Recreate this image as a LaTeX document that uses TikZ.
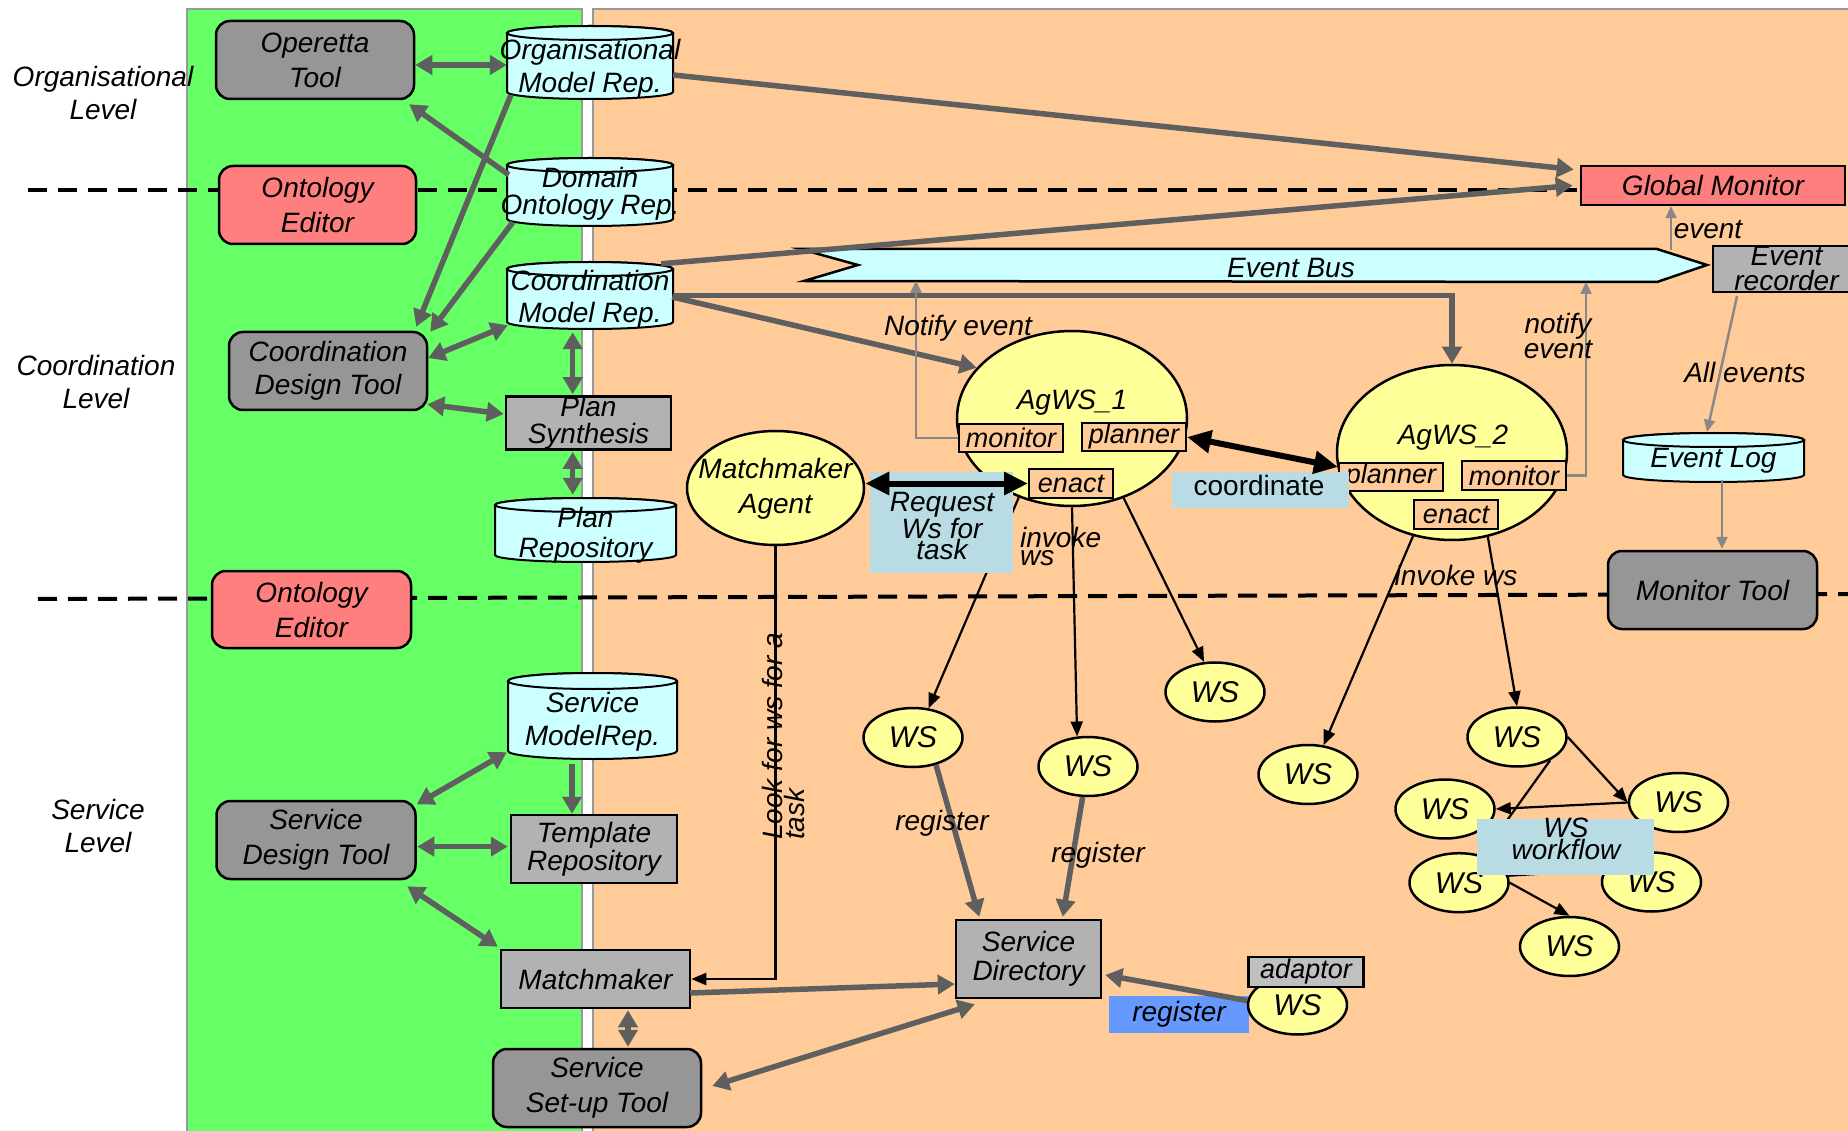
\documentclass[tikz,border=0pt]{standalone}
\usepackage{fontspec}
\setmainfont{Liberation Sans}
\usetikzlibrary{arrows.meta,shapes.geometric,calc}
\definecolor{grn}{HTML}{66FF66}
\definecolor{peach}{HTML}{FFCC99}
\definecolor{dgray}{HTML}{969696}
\definecolor{lgray}{HTML}{B2B2B2}
\definecolor{redb}{HTML}{FF7F7F}
\definecolor{cyanb}{HTML}{CCFFFF}
\definecolor{yel}{HTML}{FFFF99}
\definecolor{arrg}{HTML}{5F5F5F}
\definecolor{thing}{HTML}{888888}
\definecolor{lblue}{HTML}{B9DCE4}
\definecolor{regblue}{HTML}{6699FF}
\definecolor{adgray}{HTML}{C0C0C0}
\definecolor{pborder}{HTML}{999999}
\newcommand\fs[2]{\fontsize{#1}{#2}\selectfont}
\newcommand\drawcyl[5]{%
  \pgfmathsetmacro\cylcx{(#1+#3)/2}%
  \pgfmathsetmacro\cylrx{(#3-#1)/2}%
  \filldraw[cylsty] (#1,{#2+#5}) -- (#1,{#4-#5}) arc[start angle=180,end angle=0,x radius=\cylrx,y radius=#5] -- (#3,{#2+#5}) arc[start angle=0,end angle=-180,x radius=\cylrx,y radius=#5] -- cycle;
  \draw[cylsty] (\cylcx,{#2+#5}) ellipse[x radius=\cylrx,y radius=#5];
}
\begin{document}
\begin{tikzpicture}[x=1pt,y=-1pt,
  every node/.style={inner sep=0pt,align=center,font=\fs{28}{33}\itshape},
  cylsty/.style={draw=black,line width=2pt,fill=cyanb},
  cylnode/.style={rectangle},
  darkbox/.style={draw=black,line width=2.5pt,rounded corners=14pt,fill=dgray},
  redbox/.style={darkbox,fill=redb},
  greybox/.style={draw=black,line width=2.5pt,fill=lgray},
  sub/.style={draw=black,line width=2pt,fill=peach,minimum height=28pt,font=\fs{27}{27}\itshape},
  yell/.style={ellipse,draw=black,line width=2.5pt,fill=yel},
  wsn/.style={yell,minimum width=99pt,minimum height=59pt,font=\fs{30}{30}\itshape},
  tagbox/.style={fill=lblue},
  garr/.style={draw=arrg,line width=5.5pt,-{Triangle[length=17pt,width=19pt]}},
  gdbl/.style={draw=arrg,line width=5.5pt,{Triangle[length=17pt,width=19pt]}-{Triangle[length=17pt,width=19pt]}},
  tgarr/.style={draw=thing,line width=2.5pt,-{Triangle[length=12pt,width=11pt]}},
  barr/.style={draw=black,line width=2.2pt,-{Triangle[length=15pt,width=12pt]}},
  bline/.style={draw=black,line width=2.2pt},
  bdbl/.style={draw=black,line width=6pt,{Triangle[length=24pt,width=22pt]}-{Triangle[length=24pt,width=22pt]}},
  dashl/.style={draw=black,line width=4pt,dash pattern=on 19pt off 11pt}
]
\useasboundingbox (0,0) rectangle (1848,1131);
\clip (0,0) rectangle (1848,1131);
\fill[white] (0,0) rectangle (1848,1131);

% panels
\filldraw[draw=pborder,line width=2pt,fill=grn] (187,9) rectangle (582,1140);
\filldraw[draw=pborder,line width=2pt,fill=peach] (593,9) rectangle (1860,1140);

% level separators
\draw[dashl] (28,190.5) -- (1581,190.5);
\draw[dashl] (38,599) -- (1848,594);

% level labels
\node (lv1) at (103,93) {Organisational\\Level};
\node (lv2) at (96,382) {Coordination\\Level};
\node (lv3) at (98,826) {Service\\Level};

% event bus
\filldraw[fill=cyanb,draw=black,line width=2.5pt] (800,249) -- (1657,249) -- (1707,265) -- (1657,282) -- (804,281) -- (858,265) -- cycle;
\node (ebt) at (1291,268) {Event Bus};
\coordinate (ebL) at (916,281);
\coordinate (ebR) at (1586,282);
\coordinate (ebT) at (1671,250);

% cylinders (bodies)
\drawcyl{507}{26}{673}{99}{7}
\drawcyl{507}{158}{673}{226}{7}
\drawcyl{507}{262}{673}{329}{7}
\drawcyl{495}{498}{676}{562}{7}
\drawcyl{508}{673}{677}{759}{8}
\drawcyl{1623}{433}{1804}{482}{7}
\node[cylnode,minimum width=166pt,minimum height=73pt] (omr) at (590,62.5) {};
\node[cylnode,minimum width=166pt,minimum height=68pt] (dor) at (590,192) {};
\node[cylnode,minimum width=166pt,minimum height=67pt] (cmr) at (590,295.5) {};
\node[cylnode,minimum width=181pt,minimum height=64pt] (pr) at (585.5,530) {};
\node[cylnode,minimum width=169pt,minimum height=86pt] (smr) at (592.5,716) {};
\node[cylnode,minimum width=181pt,minimum height=49pt] (el) at (1713.5,457.5) {};
\node (omrt) at (590,68.5) {Organisational\\Model Rep.};
\node[font=\fs{28}{27}\itshape] (dort) at (590,194) {Domain\\Ontology Rep.};
\node[font=\fs{28}{32}\itshape] (cmrt) at (590,299) {Coordination\\Model Rep.};
\node[font=\fs{28}{30}\itshape] (prt) at (585.5,535) {Plan\\Repository};
\node (smrt) at (592.5,721.5) {Service\\ModelRep.};
\node (elt) at (1713.5,461) {Event Log};

% boxes green panel
\node[darkbox,minimum width=198pt,minimum height=78pt,font=\fs{28}{35}\itshape] (opt) at (315,60) {Operetta\\Tool};
\node[redbox,minimum width=197pt,minimum height=78pt,font=\fs{28}{35}\itshape] (oe1) at (317.5,205) {Ontology\\Editor};
\node[darkbox,minimum width=198pt,minimum height=78pt] (cdt) at (328,371) {Coordination\\Design Tool};
\node[greybox,minimum width=165pt,minimum height=52pt,font=\fs{28}{27}\itshape] (ps) at (588.5,423) {Plan\\Synthesis};
\node[redbox,minimum width=199pt,minimum height=77pt,font=\fs{28}{35}\itshape] (oe2) at (311.5,609.5) {Ontology\\Editor};
\node[darkbox,minimum width=199pt,minimum height=78pt,font=\fs{28}{35}\itshape] (sdt) at (316,840) {Service\\Design Tool};
\node[greybox,minimum width=166pt,minimum height=68pt,font=\fs{28}{28}\itshape] (tr) at (594,849) {Template\\Repository};
\node[greybox,minimum width=189pt,minimum height=58pt] (mm) at (595.5,979) {Matchmaker};
\node[darkbox,minimum width=208pt,minimum height=78pt,font=\fs{28}{35}\itshape] (sst) at (597,1088) {Service\\Set-up Tool};

% right side boxes
\node[greybox,fill=redb,minimum width=264pt,minimum height=39pt] (gm) at (1713,185.5) {Global Monitor};
\node[greybox,minimum width=147pt,minimum height=46pt,font=\fs{28}{25}\itshape] (er) at (1786.5,269) {Event\\recorder};
\node[darkbox,minimum width=209pt,minimum height=78pt] (mt) at (1712.5,590) {Monitor Tool};
\node[greybox,minimum width=145pt,minimum height=78pt,font=\fs{28}{29}\itshape] (sd) at (1028.5,959) {Service\\Directory};

% agents
\node[yell,minimum width=177pt,minimum height=114pt] (ma) at (775.5,488) {};
\node[font=\fs{28}{35}\itshape] (mat) at (775.5,489) {Matchmaker\\Agent};
\node[yell,minimum width=230pt,minimum height=175pt] (ag1) at (1072,418.5) {};
\node (ag1t) at (1072,403) {AgWS\_1};
\node[sub,minimum width=104pt] (mon1) at (1011,438) {monitor};
\node[sub,minimum width=104pt] (pl1) at (1134,437) {planner};
\node[sub,minimum width=84pt,minimum height=29pt] (en1) at (1071,483.5) {enact};
\node[yell,minimum width=230pt,minimum height=175pt] (ag2) at (1452,452.5) {};
\node (ag2t) at (1453,438) {AgWS\_2};
\node[sub,minimum width=104pt] (pl2) at (1391,477) {planner};
\node[sub,minimum width=104pt] (mon2) at (1514,475.5) {monitor};
\node[sub,minimum width=84pt,minimum height=29pt] (en2) at (1456,514.5) {enact};

% blue register tag
\node[fill=regblue,minimum width=140pt,minimum height=37pt] (regb) at (1179,1014.5) {register};

% web services
\node[wsn] (wsa) at (913,737.5) {WS};
\node[wsn] (wsb) at (1088,766.5) {WS};
\node[wsn] (wsc) at (1215,692) {WS};
\node[wsn] (wsd) at (1308,774.5) {WS};
\node[wsn] (wse) at (1517,737) {WS};
\node[wsn] (wsf) at (1445,809) {WS};
\node[wsn] (wsg) at (1678.5,802.5) {WS};
\node[wsn] (wsh) at (1459,882.7) {WS};
\node[wsn] (wsi) at (1651.5,882) {WS};
\node[wsn] (wsj) at (1569.5,946.5) {WS};
\node[wsn] (wsk) at (1297.5,1005) {WS};
\node[greybox,fill=adgray,minimum width=115pt,minimum height=30pt,font=\fs{27}{27}\itshape] (ad) at (1306,972) {adaptor};

% gray thick connectors, green panel
\draw[gdbl] ($(opt.east)+(0,5)$) -- ($(omr.west)+(0,2.5)$);
\draw[garr] ($(dor.north west)+(2,17)$) -- ($(opt.south east)+(-6,4)$);
\draw[garr] ($(omr.south west)+(4,-4)$) -- ($(cdt.north east)+(-12,-4)$);
\draw[garr] ($(dor.south west)+(6,-4)$) -- ($(cdt.north east)+(2,1)$);
\draw[gdbl] ($(cdt.east)+(0,-13)$) -- ($(cmr.south west)+(1,-4)$);
\draw[gdbl] ($(cdt.south east)+(-1,-7)$) -- ($(ps.west)+(-1,-9)$);
\draw[gdbl] ($(cmr.south)+(-17.3,3)$) -- ($(ps.north)+(-15.8,-1)$);
\draw[gdbl] ($(ps.south)+(-15.8,1)$) -- ($(pr.north)+(-12.8,-3)$);
\draw[gdbl] ($(sdt.north east)+(0,4.6)$) -- ($(smr.south west)+(-1,-7)$);
\draw[gdbl] ($(sdt.east)+(0.5,6.6)$) -- ($(tr.west)+(-2,-2.4)$);
\draw[gdbl] ($(sdt.south east)+(-9.5,6)$) -- ($(mm.north west)+(-2,-2)$);
\draw[garr] ($(smr.south)+(-20.5,4.6)$) -- ($(tr.north)+(-22,0)$);
\draw[gdbl] ($(mm.south)+(32.5,1)$) -- ($(sst.north)+(31,-1)$);
\draw[garr] ($(mm.east)+(-1,14)$) -- ($(sd.west)+(0,25)$);
\draw[gdbl] ($(sst.east)+(10,-2)$) -- ($(sd.south west)+(20,5)$);

% gray thick connectors, orange panel
\draw[garr] ($(omr.east)+(0,12.5)$) -- ($(gm.west)+(-6,-16)$);
\draw[garr] ($(cmr.north east)+(-12,2)$) -- ($(gm.west)+(-7,0)$);
\draw[garr] ($(cmr.east)+(-1,1.5)$) -- (ag1.152);
\draw[garr] (cmr.east) -| (ag2.north);
\draw[garr] (wsa.-50) -- ($(sd.north west)+(24.5,-2)$);
\draw[garr] (wsb.-100) -- ($(sd.north west)+(108,-2)$);
\draw[garr] (wsk.175) -- ($(sd.east)+(3,16)$);

% thin gray connectors
\draw[tgarr] (mon1.west) -| (ebL);
\draw[tgarr] (mon2.east) -| (ebR);
\draw[tgarr] (ebT) -- (ebT |- gm.south);
\draw[tgarr] ($(er.south)+(-49.5,3)$) -- ($(el.north)+(-6.5,-1)$);
\draw[tgarr] ($(el.south)+(8.5,-2)$) -- ($(mt.north)+(9.5,-1)$);

% thin black connectors
\draw[barr] (ag1.236) -- (wsa.62);
\draw[barr] (ag1.south) -- (wsb.110);
\draw[barr] (ag1.303) -- (wsc.110);
\draw[barr] (ag2.245) -- (wsd.62);
\draw[barr] (ag2.293) -- (wse.north);
\draw[barr] (wse.east) -- (wsg.west);
\draw[barr] (wsg.west) -- (wsf.east);
\draw[bline] (wse.-35) -- (wsh.50);
\draw[bline] (wsh.8) -- (wsi.165);
\draw[barr] (wsh.east) -- (wsj.north);
\draw[barr] (ma.south) |- (mm.east);

% label boxes
\node[tagbox,minimum width=143pt,minimum height=101pt] (rqb) at (941,522.4) {};
\node[font=\fs{28}{19}\itshape] (rqt) at (942,526) {Request\\Ws for\\task};
\node[tagbox,minimum width=177pt,minimum height=36pt] (cob) at (1260.5,490) {};
\node[font=\fs{28}{28}\upshape] (cot) at (1259,485) {coordinate};
\node[tagbox,minimum width=177pt,minimum height=56pt] (wfb) at (1565.5,847) {};
\node[font=\fs{28}{18}\itshape] (wft) at (1566,839) {WS\\workflow};

% thick black double arrows
\draw[bdbl] (ma.east |- en1.west) -- (en1.west);
\draw[bdbl] (pl1.east) -- ($(pl2.north west)+(0,5)$);

% labels
\node (nte) at (958,328) {Notify event};
\node[align=left,anchor=west,font=\fs{28}{18}\itshape] (inv1) at (1020,546) {invoke\\ws};
\node (inv2) at (1456,575) {invoke ws};
\node[font=\fs{28}{17}\itshape] (nte2) at (1558,336) {notify\\event};
\node (evl) at (1708,230) {event};
\node (ael) at (1745,372) {All events};
\node (rg1) at (942,823) {register};
\node (rg2) at (1098,855) {register};
\node[rotate=90,align=left,anchor=north west,font=\fs{28}{20}\itshape] (lfw) at (762,840) {Look for ws for a\\task};
\end{tikzpicture}
\end{document}
